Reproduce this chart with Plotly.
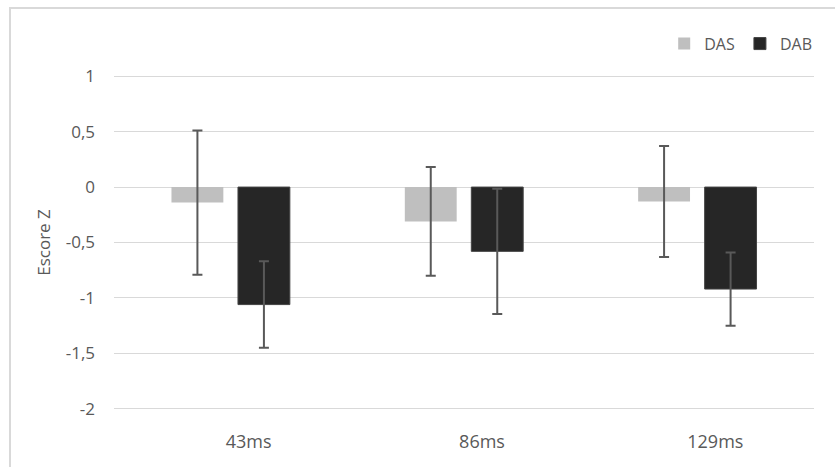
import plotly.graph_objects as go

# Mean Z-scores per presentation time, with symmetric error bars
categories = ["43ms", "86ms", "129ms"]
das_mean = [-0.14, -0.31, -0.13]
das_err = [0.65, 0.49, 0.50]
dab_mean = [-1.06, -0.58, -0.92]
dab_err = [0.39, 0.565, 0.33]

y_ticks = [1, 0.5, 0, -0.5, -1, -1.5, -2]
y_tick_text = ["1", "0,5", "0", "-0,5", "-1", "-1,5", "-2"]

text_color = "#595959"
grid_color = "#d9d9d9"
font_family = "Open Sans, Segoe UI, Liberation Sans, sans-serif"

W, H = 835, 467
ML, MR, MT, MB = 114, 21, 74, 56
plot_w = W - ML - MR
plot_h = H - MT - MB

fig = go.Figure()
fig.add_trace(go.Bar(
    name="DAS", x=categories, y=das_mean,
    marker=dict(color="#bfbfbf", line=dict(width=0)),
    error_y=dict(type="data", array=das_err, visible=True,
                 color="#595959", thickness=2, width=5),
))
fig.add_trace(go.Bar(
    name="DAB", x=categories, y=dab_mean,
    marker=dict(color="#262626", line=dict(width=1, color="#444444")),
    error_y=dict(type="data", array=dab_err, visible=True,
                 color="#595959", thickness=2, width=5),
))

# light outer frame around the chart area
fig.add_shape(
    type="rect", xref="paper", yref="paper",
    x0=(10 - ML) / plot_w, x1=1.1,
    y0=-0.3, y1=(H - MB - 8) / plot_h,
    line=dict(color=grid_color, width=2), fillcolor="rgba(0,0,0,0)",
    layer="below",
)

fig.update_layout(
    width=W, height=H,
    margin=dict(l=ML, r=MR, t=MT, b=MB, pad=0),
    paper_bgcolor="white", plot_bgcolor="white",
    barmode="group", bargap=0.43, bargroupgap=0.22,
    font=dict(family=font_family, color=text_color, size=16),
    showlegend=True,
    legend=dict(
        orientation="h", x=0.786, xanchor="left", y=1.09, yanchor="middle",
        font=dict(size=16, color=text_color), bgcolor="rgba(0,0,0,0)",
        itemwidth=30, traceorder="normal",
    ),
    xaxis=dict(
        showgrid=False, showline=False, zeroline=False, ticks="",
        tickfont=dict(size=18, color=text_color), ticklabelstandoff=18,
        ticklabelshift=18,
    ),
    yaxis=dict(
        range=[-2.02, 1.02], tickvals=y_ticks, ticktext=y_tick_text,
        showgrid=True, gridcolor=grid_color, gridwidth=1,
        zeroline=True, zerolinecolor=grid_color, zerolinewidth=1,
        showline=False, ticks="", ticklabelstandoff=18,
        tickfont=dict(size=17, color=text_color),
        title=dict(text="Escore Z", font=dict(size=17, color=text_color), standoff=10),
    ),
)

fig.write_html("out.html")
